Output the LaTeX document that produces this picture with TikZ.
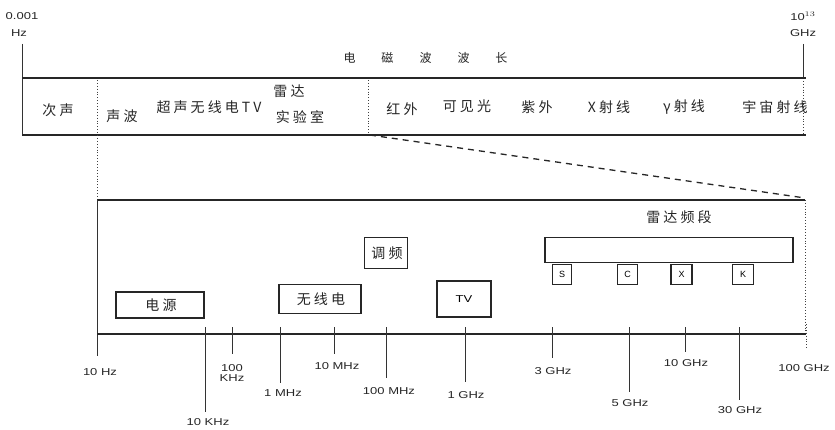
\documentclass[tikz,border=0pt]{standalone}
\usepackage{fontspec}
\usepackage{graphicx}
\setmainfont{Liberation Sans}
\newfontfamily\cjk[LetterSpace=22]{Noto Sans CJK SC}
\newfontfamily\cjkplain{Noto Sans CJK SC}
\newfontfamily\lab{Liberation Sans}
\newcommand{\wide}[1]{\scalebox{1.3}[1]{#1}}
\begin{document}
\begin{tikzpicture}[x=1pt,y=-1pt,
  cjkt/.style={font=\cjk\fontsize{14}{16}\selectfont, inner sep=0pt, text=black!85},
  freq/.style={font=\lab\fontsize{10}{11}\selectfont, inner sep=0pt, text=black!85, align=center},
  bandbox/.style={draw=black!85, line width=1.4pt, inner sep=0pt},
  frame/.style={draw=black!85, line width=1.2pt},
  guide/.style={draw=black!80, line width=0.7pt},
  dotguide/.style={draw=black!75, line width=0.9pt, dotted},
]
\useasboundingbox (0,0) rectangle (835,430);
\fill[white] (0,0) rectangle (835,430);

% ---------- top spectrum band ----------
\coordinate (tl) at (22,78);
\coordinate (tr) at (806,78);
\coordinate (bl) at (22,135);
\coordinate (br) at (806,135);
\node[freq] (lowlab) at (22,16) {\wide{0.001}};
\node[freq] (lowhz) at (19,33) {\wide{Hz}};
\node[freq] (highlab) at (803,16) {\wide{10$^{13}$}};
\node[freq] (highghz) at (803,33) {\wide{GHz}};
\draw[guide] (22,44) -- (bl);
\draw[guide] (803,44) -- (803,78);
\draw[dotguide] (803,78) -- (803,135);
\draw[frame] (tl) -- (tr);
\draw[frame] (bl) -- (br);

\node[font=\cjkplain\fontsize{12}{14}\selectfont, text=black!85] (title) at (425.5,58)
  {电\hspace{26pt}磁\hspace{26pt}波\hspace{26pt}波\hspace{26pt}长};

\node[cjkt] (cs) at (58,110) {次声};
\node[cjkt] (sb) at (122,116) {声波};
\node[cjkt] (cx) at (209,107) {超声无线电TV};
\node[cjkt] (ld) at (289,91) {雷达};
\node[cjkt] (syz) at (300,117) {实验室};
\node[cjkt] (hw) at (402,109) {红外};
\node[cjkt] (kjg) at (467,106) {可见光};
\node[cjkt] (zw) at (537,107) {紫外};
\node[cjkt] (xsx) at (609,107) {X射线};
\node[cjkt] (gsx) at (684,107) {γ射线};
\node[cjkt] (yz) at (775,107) {宇宙射线};

% dotted separators and zoom lines
\coordinate (sep1a) at (97,80);
\coordinate (sep1b) at (97,200);
\coordinate (sep2a) at (368,80);
\coordinate (sep2b) at (368,135);
\coordinate (zr) at (805,198);
\draw[dotguide] (sep1a) -- (sep1b);
\draw[dotguide] (sep2a) -- (sep2b);
\draw[draw=black!85, line width=1.3pt, dash pattern=on 6pt off 5pt] (370,135) -- (zr);

% ---------- lower zoomed band ----------
\coordinate (ltl) at (97,200);
\coordinate (ltr) at (805,200);
\coordinate (axl) at (97,334);
\coordinate (axr) at (806,334);
\draw[frame] (ltl) -- (ltr);
\draw[guide, line width=1pt] (ltl) -- (97,356);
\draw[dotguide] (ltr) -- (805,334);
\draw[frame] (axl) -- (axr);

% boxes
\node[bandbox, cjkt, minimum width=88pt, minimum height=26pt] (dy) at (160,305) {\hspace{2pt}电源};
\node[bandbox, cjkt, minimum width=82pt, minimum height=29pt] (wxd) at (320,299) {\hspace{2pt}无线电};
\node[bandbox, cjkt, minimum width=43pt, minimum height=31pt] (tp) at (386,253) {\hspace{2pt}调频};
\node[bandbox, font=\lab\fontsize{10}{11}\selectfont, minimum width=54pt, minimum height=36pt] (tv) at (464,299) {\wide{TV}};
\node[cjkt] (ldpd) at (679,217) {雷达频段};
\node[bandbox, minimum width=248pt, minimum height=25pt] (radar) at (669,250) {};
\node[bandbox, font=\lab\fontsize{9}{10}\selectfont, line width=1.2pt, minimum width=19pt, minimum height=20pt, anchor=north] (bs) at (562,264) {S};
\node[bandbox, font=\lab\fontsize{9}{10}\selectfont, line width=1.2pt, minimum width=20pt, minimum height=20pt, anchor=north] (bc) at (627.5,264) {C};
\node[bandbox, font=\lab\fontsize{9}{10}\selectfont, line width=1.2pt, minimum width=21pt, minimum height=20pt, anchor=north] (bx) at (681.5,264) {X};
\node[bandbox, font=\lab\fontsize{9}{10}\selectfont, line width=1.2pt, minimum width=21pt, minimum height=20pt, anchor=north] (bk) at (743,264) {K};

% ticks and labels
\node[freq] (f1) at (100,372) {\wide{10 Hz}};
\draw[guide] (205,327) -- (205,412);
\node[freq] (f2) at (208,422) {\wide{10 KHz}};
\draw[guide] (232,327) -- (232,354);
\node[freq] (f3) at (232,373) {\wide{100}\\[-1pt]\wide{KHz}};
\draw[guide] (280,327) -- (280,383);
\node[freq] (f4) at (283,393) {\wide{1 MHz}};
\draw[guide] (334,327) -- (334,354);
\node[freq] (f5) at (337,366) {\wide{10 MHz}};
\draw[guide] (386,327) -- (386,378);
\node[freq] (f6) at (389,391) {\wide{100 MHz}};
\draw[guide] (465,327) -- (465,382);
\node[freq] (f7) at (466,395) {\wide{1 GHz}};
\draw[guide] (552,327) -- (552,358);
\node[freq] (f8) at (553,371) {\wide{3 GHz}};
\draw[guide] (629,327) -- (629,392);
\node[freq] (f9) at (630,403) {\wide{5 GHz}};
\draw[guide] (685,327) -- (685,352);
\node[freq] (f10) at (686,363) {\wide{10 GHz}};
\draw[guide] (739,327) -- (739,400);
\node[freq] (f11) at (740,410) {\wide{30 GHz}};
\draw[dotguide] (806,324) -- (806,350);
\node[freq] (f12) at (804,368) {\wide{100 GHz}};
\end{tikzpicture}
\end{document}
